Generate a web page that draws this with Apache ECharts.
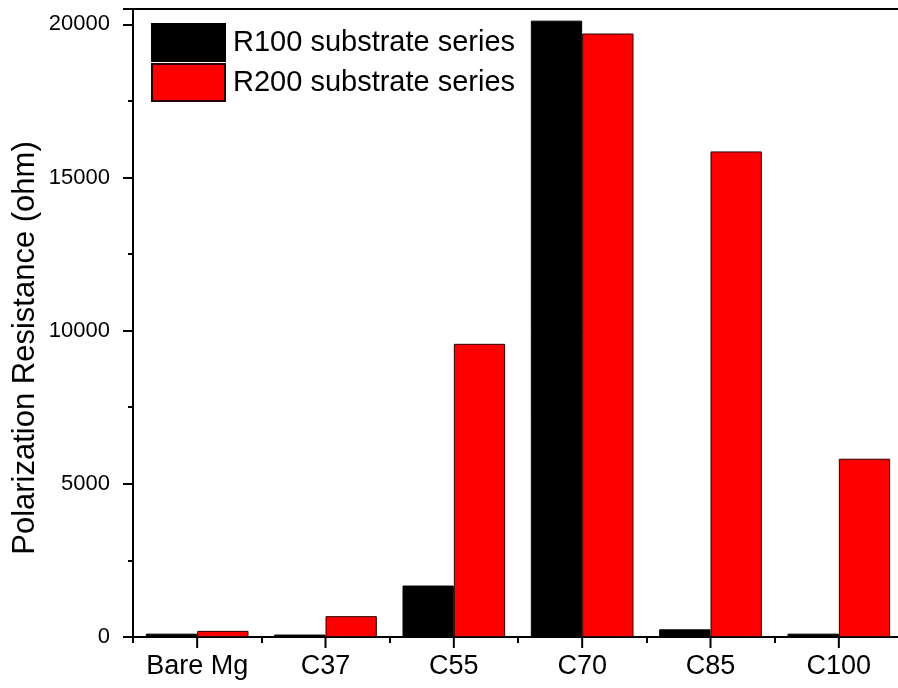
<!DOCTYPE html>
<html>
<head>
<meta charset="utf-8">
<script src="https://cdn.jsdelivr.net/npm/echarts@6/dist/echarts.min.js"></script>
<style>
  html, body { margin: 0; padding: 0; background: #fff; }
  #chart { width: 898px; height: 688px; }
</style>
</head>
<body>
<div id="chart"></div>
<script>
// Polarization resistance of the two substrate series per coating
const categories = ['Bare Mg', 'C37', 'C55', 'C70', 'C85', 'C100'];
const r100Values = [110, 80, 1680, 20120, 250, 110];
const r200Values = [200, 680, 9570, 19700, 15850, 5820];
const seriesNames = ['R100 substrate series', 'R200 substrate series'];
const yTitle = 'Polarization Resistance (ohm)';

const FONT = '"Liberation Sans", Arial, sans-serif';
const MAJOR_TICK = 11;

const chart = echarts.init(document.getElementById('chart'), null, { renderer: 'canvas' });

const titleGraphic = {
  type: 'text',
  id: 'ytitle',
  x: 25, y: 348,
  rotation: Math.PI / 2,
  style: {
    text: yTitle,
    font: '31px ' + FONT,
    fill: '#000',
    align: 'center',
    verticalAlign: 'middle'
  }
};

chart.setOption({
  animation: false,
  backgroundColor: '#fff',
  textStyle: { fontFamily: FONT, color: '#000' },
  grid: {
    left: 133, top: 9, width: 770, bottom: 51,
    containLabel: false,
    outerBoundsMode: 'none',
    show: true, borderColor: '#000', borderWidth: 2, backgroundColor: 'transparent'
  },
  legend: {
    orient: 'vertical',
    left: 146, top: 18,
    itemWidth: 73, itemHeight: 37, itemGap: 1,
    icon: 'rect',
    textStyle: { fontFamily: FONT, fontSize: 29, color: '#000', padding: [0, 0, 0, 3] },
    data: seriesNames
  },
  graphic: [titleGraphic],
  xAxis: {
    // labels at the group centres, short ticks on the group boundaries
    type: 'category',
    data: categories,
    axisLine: { show: true, lineStyle: { color: '#000', width: 2 } },
    axisTick: { show: true, interval: 0, alignWithLabel: false, length: 6, lineStyle: { color: '#000', width: 2 } },
    axisLabel: { interval: 0, fontFamily: FONT, fontSize: 27, color: '#000', margin: 16 },
    splitLine: { show: false }
  },
  yAxis: {
    type: 'value',
    min: 0, max: 20500, interval: 5000,
    axisLine: { show: true, lineStyle: { color: '#000', width: 2 } },
    axisTick: { show: true, length: 10, lineStyle: { color: '#000', width: 2 } },
    minorTick: { show: true, splitNumber: 2, length: 5, lineStyle: { color: '#000', width: 2 } },
    axisLabel: { fontFamily: FONT, fontSize: 22, color: '#000', margin: 23, showMaxLabel: false,
      formatter: v => (v % 5000 === 0 ? String(v) : '') },
    splitLine: { show: false }
  },
  series: [{
    name: seriesNames[0],
    type: 'bar',
    data: r100Values,
    barCategoryGap: '20%',
    barGap: '0%',
    itemStyle: { color: '#000', borderColor: '#000', borderWidth: 1 }
  }, {
    name: seriesNames[1],
    type: 'bar',
    data: r200Values,
    barCategoryGap: '20%',
    barGap: '0%',
    itemStyle: { color: '#ff0000', borderColor: '#2a0000', borderWidth: 1 }
  }]
});

// Long ticks under each group label, placed through the axis scales
const centreTicks = categories.map((c, i) => {
  const p = chart.convertToPixel({ xAxisIndex: 0, yAxisIndex: 0 }, [i, 0]);
  return {
    type: 'line',
    z: 100,
    silent: true,
    shape: { x1: p[0], y1: p[1], x2: p[0], y2: p[1] + MAJOR_TICK },
    style: { stroke: '#000', lineWidth: 2 }
  };
});
chart.setOption({ graphic: [titleGraphic].concat(centreTicks) }, { replaceMerge: ['graphic'] });
</script>
</body>
</html>
